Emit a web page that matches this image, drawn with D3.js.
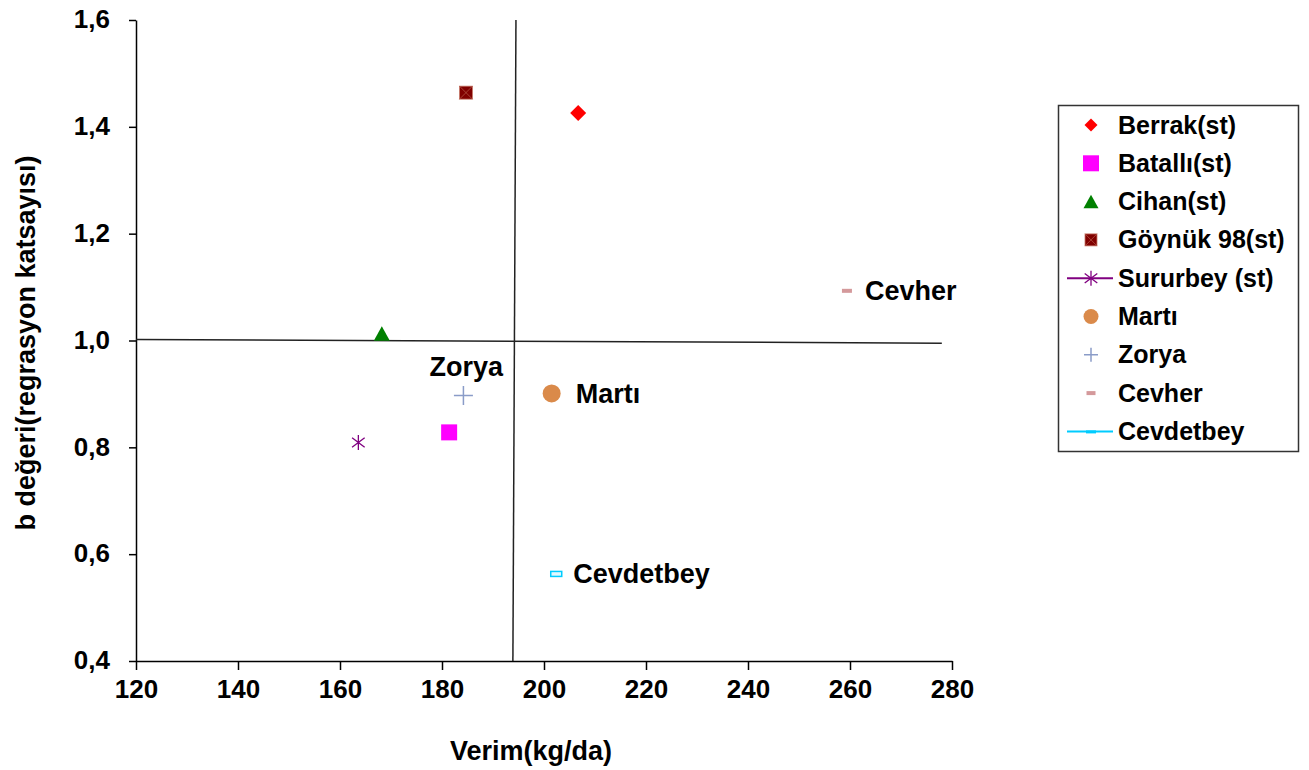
<!DOCTYPE html>
<html><head><meta charset="utf-8">
<script src="https://cdn.jsdelivr.net/npm/d3@7"></script>
<style>
html,body{margin:0;padding:0;background:#fff;}
svg text{font-family:"Liberation Sans",Arial,sans-serif;font-weight:bold;fill:#000;}
</style></head>
<body>
<svg id="chart" width="1309" height="770"></svg>
<script>
// ---- data ----
const series = ["Berrak(st)","Batallı(st)","Cihan(st)","Göynük 98(st)","Sururbey (st)","Martı","Zorya","Cevher","Cevdetbey"];
const yieldValues = [206.7, 181.4, 168.2, 184.7, 163.6, 201.5, 184.2, 259.4, 202.4];
const bValues = [1.426, 0.828, 1.013, 1.464, 0.809, 0.901, 0.897, 1.093, 0.563];
const markerTypes = ["diamond","square","triangle","xsquare","star","circle","plus","dash","hollow"];
const markerColors = ["#FF0000","#FF00FF","#008000","#800000","#800080","#DA8A4A","#8A9CC8","#D4999B","#00CCFF"];
const pointLabels = ["","","","","","Martı","Zorya","Cevher","Cevdetbey"];
const xTicks = [120,140,160,180,200,220,240,260,280];
const yTicks = [0.4,0.6,0.8,1.0,1.2,1.4,1.6];
const meanVLine = [[194.5,1.6],[193.9,0.4]];
const meanHLine = [[120,1.002],[278,0.995]];
const xTitle = "Verim(kg/da)";
const yTitle = "b değeri(regrasyon katsayısı)";

// ---- scales ----
const svg = d3.select("#chart");
const x = d3.scaleLinear().domain([120,280]).range([136,952]);
const y = d3.scaleLinear().domain([0.4,1.6]).range([661,20]);
const fmt = d => d3.format(".1f")(d).replace(".", ",");

// axes
const gx = svg.append("g").attr("transform","translate(0,661)")
  .call(d3.axisBottom(x).tickValues(xTicks).tickSize(9).tickSizeOuter(0).tickPadding(8).tickFormat(d3.format("d")));
const gy = svg.append("g").attr("transform","translate(136,0)")
  .call(d3.axisLeft(y).tickValues(yTicks).tickSize(7).tickSizeOuter(0).tickPadding(19).tickFormat(fmt));
[gx,gy].forEach(g=>{
  g.selectAll("path,line").attr("stroke","#000").attr("stroke-width",1.5);
  g.selectAll("text").attr("font-size",26).attr("font-family","Liberation Sans, Arial, sans-serif").attr("font-weight","bold").attr("fill","#000");
});
gx.selectAll("text").attr("dy","0.78em");
gy.selectAll("text").attr("dy","0.3em");

// reference lines
const line = d3.line().x(d=>x(d[0])).y(d=>y(d[1]));
svg.append("path").attr("d",line(meanHLine)).attr("stroke","#222").attr("stroke-width",1.5).attr("fill","none");
svg.append("path").attr("d",line(meanVLine)).attr("stroke","#222").attr("stroke-width",1.5).attr("fill","none");

// axis titles
svg.append("text").attr("x",531).attr("y",760).attr("text-anchor","middle").attr("font-size",27).text(xTitle);
svg.append("text").attr("transform","translate(35,343) rotate(-90)").attr("text-anchor","middle").attr("font-size",27).text(yTitle);

// marker drawing
function drawMarker(g, type, color, s){
  switch(type){
    case "diamond":
      g.append("path").attr("d",d3.symbol(d3.symbolDiamond2 || d3.symbolDiamond, s*s*0.5)()).attr("fill",color)
       .attr("d",`M0,${-s/2}L${s/2},0L0,${s/2}L${-s/2},0Z`);
      break;
    case "square":
      g.append("rect").attr("x",-s/2).attr("y",-s/2).attr("width",s).attr("height",s).attr("fill",color);
      break;
    case "triangle":
      g.append("path").attr("d",`M0,${-s*0.45}L${s/2},${s*0.45}L${-s/2},${s*0.45}Z`).attr("fill",color);
      break;
    case "xsquare":
      g.append("rect").attr("x",-s/2).attr("y",-s/2).attr("width",s).attr("height",s).attr("fill",color)
       .attr("stroke","#C87A6A").attr("stroke-width",0.8);
      g.append("path").attr("d",`M${-s/2},${-s/2}L${s/2},${s/2}M${s/2},${-s/2}L${-s/2},${s/2}`).attr("stroke","#B05040").attr("stroke-width",0.8);
      break;
    case "star":
      g.append("path").attr("d",`M0,${-s/2}L0,${s/2}M${-s*0.42},${-s*0.32}L${s*0.42},${s*0.32}M${s*0.42},${-s*0.32}L${-s*0.42},${s*0.32}`)
       .attr("stroke",color).attr("stroke-width",1.3).attr("fill","none");
      break;
    case "circle":
      g.append("circle").attr("r",s/2).attr("fill",color);
      break;
    case "plus":
      g.append("path").attr("d",`M0,${-s/2}L0,${s/2}M${-s/2},0L${s/2},0`).attr("stroke",color).attr("stroke-width",1.5).attr("fill","none");
      break;
    case "dash":
      g.append("rect").attr("x",-s/2).attr("y",-2).attr("width",s).attr("height",4).attr("fill",color);
      break;
    case "hollow":
      g.append("rect").attr("x",-s/2).attr("y",-2.5).attr("width",s).attr("height",5).attr("fill","#E0F8FF").attr("stroke",color).attr("stroke-width",1.5);
      break;
  }
}
const plotSizes = {diamond:16,square:16,triangle:16,xsquare:13,star:15,circle:18,plus:19,dash:10,hollow:11};
const legendSizes = {diamond:13,square:16,triangle:15,xsquare:12,star:15,circle:15,plus:14,dash:9,hollow:9};

// points
const pts = svg.append("g");
series.forEach((name,i)=>{
  const g = pts.append("g").attr("transform",`translate(${x(yieldValues[i])},${y(bValues[i])})`);
  drawMarker(g, markerTypes[i], markerColors[i], plotSizes[markerTypes[i]]);
});

// point labels (offsets relative to the point)
const labelOffsets = {"Martı":[24,10],"Zorya":[-34,-20],"Cevher":[18,9],"Cevdetbey":[17,9]};
series.forEach((name,i)=>{
  const lab = pointLabels[i];
  if(!lab) return;
  const o = labelOffsets[lab];
  svg.append("text").attr("x",x(yieldValues[i])+o[0]).attr("y",y(bValues[i])+o[1]).attr("font-size",27).text(lab);
});

// legend
const lg = svg.append("g");
lg.append("rect").attr("x",1058.5).attr("y",105.5).attr("width",240).attr("height",346).attr("fill","#fff").attr("stroke","#333").attr("stroke-width",1.5);
series.forEach((name,i)=>{
  const cy = 125 + i*38.3;
  const g = lg.append("g").attr("transform",`translate(1091,${cy})`);
  if(markerTypes[i]==="star" || markerTypes[i]==="hollow"){
    g.append("line").attr("x1",-24).attr("x2",22).attr("y1",0).attr("y2",0).attr("stroke",markerColors[i]).attr("stroke-width",2);
  }
  if(markerTypes[i]==="hollow"){
    g.append("rect").attr("x",-5).attr("y",-1).attr("width",10).attr("height",3).attr("fill",markerColors[i]);
  } else {
    drawMarker(g, markerTypes[i], markerColors[i], legendSizes[markerTypes[i]]);
  }
  lg.append("text").attr("x",1118).attr("y",cy+8.5).attr("font-size",25).text(name);
});
</script>
</body></html>
